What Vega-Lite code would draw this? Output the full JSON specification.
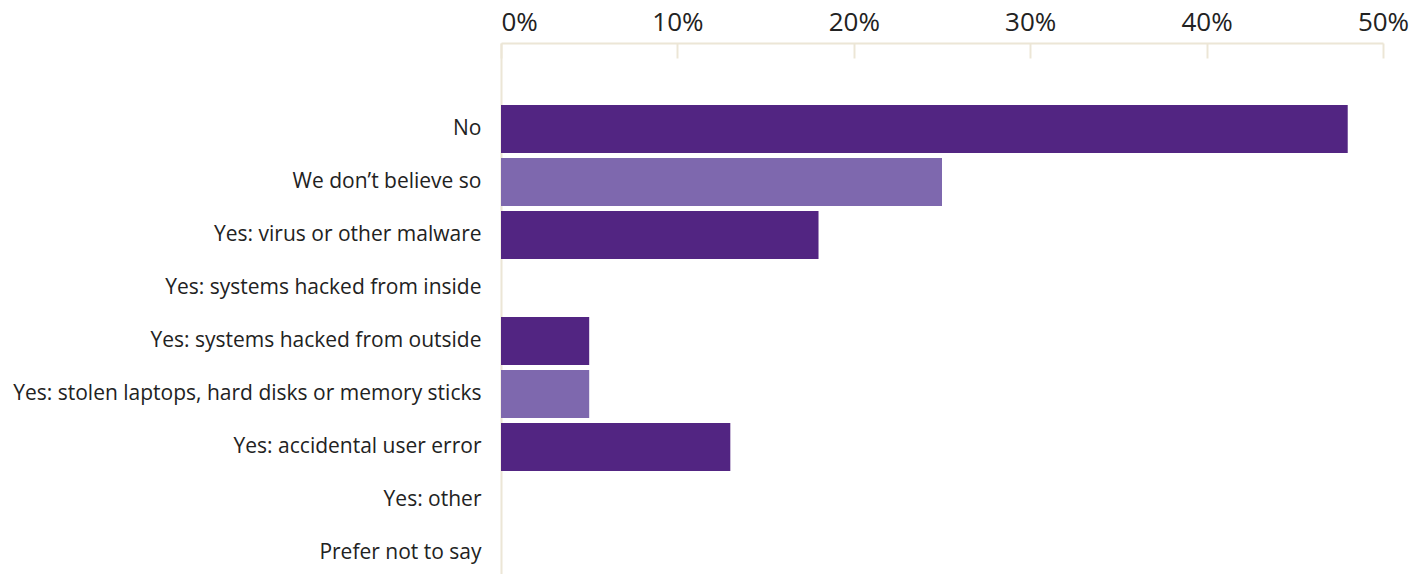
{
  "$schema": "https://vega.github.io/schema/vega-lite/v6.json",
  "autosize": {"type": "none"},
  "padding": {"left": 501, "top": 43, "right": 37, "bottom": 0},
  "width": 882,
  "height": 534,
  "background": "#ffffff",
  "data": {
    "values": [
      {"answer": "No", "pct": 48},
      {"answer": "We don’t believe so", "pct": 25},
      {"answer": "Yes: virus or other malware", "pct": 18},
      {"answer": "Yes: systems hacked from inside", "pct": 0},
      {"answer": "Yes: systems hacked from outside", "pct": 5},
      {"answer": "Yes: stolen laptops, hard disks or memory sticks", "pct": 5},
      {"answer": "Yes: accidental user error", "pct": 13},
      {"answer": "Yes: other", "pct": 0},
      {"answer": "Prefer not to say", "pct": 0}
    ]
  },
  "transform": [
    {"window": [{"op": "row_number", "as": "rn"}]}
  ],
  "mark": {"type": "bar"},
  "encoding": {
    "y": {
      "field": "answer",
      "type": "nominal",
      "sort": null,
      "title": null,
      "scale": {"paddingInner": 0.094, "paddingOuter": 0.585, "align": 1},
      "axis": {
        "ticks": false,
        "domainColor": "#ece6d6",
        "domainWidth": 2,
        "labelFont": "Open Sans",
        "labelFontSize": 21,
        "labelColor": "#222222",
        "labelPadding": 20,
        "labelLimit": 600
      }
    },
    "x": {
      "field": "pct",
      "type": "quantitative",
      "title": null,
      "scale": {"domain": [0, 50]},
      "axis": {
        "orient": "top",
        "values": [0, 10, 20, 30, 40, 50],
        "labelExpr": "datum.value + '%'",
        "grid": false,
        "domainColor": "#ece6d6",
        "domainWidth": 2,
        "tickColor": "#ece6d6",
        "tickWidth": 2,
        "tickSize": -15,
        "labelFont": "Open Sans",
        "labelFontSize": 26,
        "labelColor": "#222222",
        "labelPadding": 23,
        "labelFlush": false,
        "labelAlign": {"expr": "datum.value == 0 ? 'left' : 'center'"}
      }
    },
    "color": {
      "condition": {"test": "datum.rn % 2 == 0", "value": "#7e68ae"},
      "value": "#522582"
    }
  },
  "config": {"view": {"stroke": null}}
}
